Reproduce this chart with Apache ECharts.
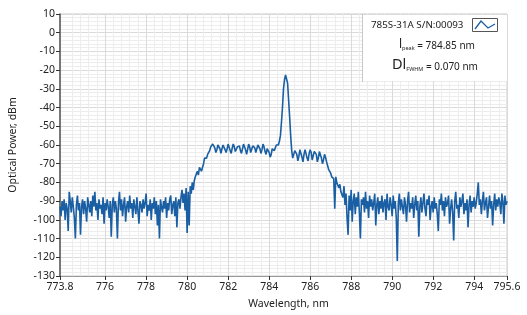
<!DOCTYPE html>
<html>
<head>
<meta charset="utf-8">
<script src="https://cdn.jsdelivr.net/npm/echarts@6/dist/echarts.min.js"></script>
<style>
html,body{margin:0;padding:0;background:#fff;}
#chart{width:527px;height:315px;}
</style>
</head>
<body>
<div id="chart"></div>
<script>
// Wavelength sampling (nm)
const wlStart = 773.8;
const wlStep = 0.05;
// X tick labels (nm)
const xTickLabels = [773.8, 776, 778, 780, 782, 784, 786, 788, 790, 792, 794, 795.6];
// Y range (dBm)
const yMin = -130, yMax = 10, yStep = 10;
const seriesName = '785S-31A S/N:00093';
const peakText = '784.85 nm';
const fwhmText = '0.070 nm';
// Optical power (dBm), one value per sample
const power = [
  -93, -98, -90, -95, -89, -100, -91, -94, -106, -85,
  -90, -96, -88, -93, -99, -110, -92, -87, -95, -91,
  -108, -93, -89, -97, -90, -94, -101, -88, -92, -96,
  -90, -98, -87, -93, -85, -95, -91, -100, -89, -94,
  -92, -97, -88, -102, -91, -95, -89, -93, -99, -90,
  -109, -92, -88, -96, -90, -94, -110, -91, -85, -95,
  -89, -98, -92, -88, -101, -93, -90, -96, -87, -94,
  -91, -99, -89, -93, -97, -88, -95, -102, -90, -92,
  -96, -89, -94, -91, -86, -98, -92, -95, -89, -100,
  -91, -94, -88, -97, -90, -103, -92, -110, -89, -93,
  -96, -90, -94, -88, -99, -91, -95, -89, -87, -97,
  -92, -90, -98, -88, -104, -91, -89, -94, -88, -84,
  -91, -86, -95, -83, -107, -85, -103, -82, -86, -80,
  -84, -79, -77, -78, -74, -76, -72, -71, -74, -72,
  -70, -67, -66, -67, -65, -66, -63, -61, -62, -59.5,
  -59.5, -61.5, -64, -62.5, -60, -59.5, -62, -64.5, -62, -60,
  -60, -62.5, -64, -62, -59.5, -60.5, -63, -64.5, -61.5, -59.5,
  -61, -63.5, -64, -61, -60, -60.5, -63, -64.5, -62, -59.5,
  -60, -62.5, -65, -62.5, -59.5, -61, -64, -63.5, -60.5, -59.5,
  -61.5, -64, -63, -60, -60, -62, -64.5, -62.5, -59.5, -61,
  -63.5, -65, -62, -61, -64, -66.5, -65, -62, -61.5, -63,
  -62, -60, -61, -60, -58, -55, -48, -40, -30, -25,
  -22.5, -22, -27, -36, -45, -55, -63, -67, -66, -63,
  -62.5, -65, -68.5, -66, -62.5, -63, -66.5, -69, -65, -62.5,
  -63.5, -67, -68.5, -64.5, -62.5, -64, -68, -67.5, -63.5, -62.5,
  -65, -69, -67, -63.5, -64, -67, -70, -68, -65, -66.5,
  -69, -71, -73, -72, -75, -77, -76, -78, -94, -77,
  -80, -79, -83, -81, -85, -84, -88, -82, -92, -86,
  -99, -108, -87, -95, -84, -101, -90, -86, -97, -88,
  -93, -85, -96, -110, -89, -92, -88, -96, -85, -94,
  -90, -99, -87, -93, -89, -95, -91, -86, -103, -92,
  -88, -97, -90, -94, -87, -96, -91, -89, -100, -86,
  -93, -95, -88, -92, -98, -87, -94, -90, -99, -122,
  -91, -86, -95, -89, -93, -97, -88, -92, -101, -90,
  -85, -96, -91, -94, -88, -99, -92, -87, -95, -90,
  -109, -93, -88, -96, -91, -86, -94, -98, -89, -92,
  -87, -100, -93, -90, -96, -88, -94, -91, -97, -106,
  -89, -92, -86, -95, -90, -98, -88, -93, -91, -87,
  -102, -94, -89, -96, -111, -90, -85, -94, -92, -99,
  -88, -93, -90, -86, -97, -91, -95, -89, -104, -92,
  -87, -96, -90, -93, -88, -94, -91, -86, -80, -92,
  -89, -97, -90, -85, -95, -91, -88, -99, -93, -87,
  -94, -90, -103, -92, -86, -95, -89, -93, -88, -91,
  -97, -86, -90, -102, -87, -92, -90
];

const data = power.map((p, i) => [Number((wlStart + i * wlStep).toFixed(2)), p]);
const FONT = 'Noto Sans';
const chart = echarts.init(document.getElementById('chart'), null, {renderer: 'canvas'});

chart.setOption({
  animation: false,
  backgroundColor: '#fff',
  grid: {left: 58, right: 20, top: 14, bottom: 35, show: true, borderColor: '#c8c8c8', borderWidth: 1, backgroundColor: '#fff'},
  xAxis: {
    type: 'value',
    min: 773.8, max: 795.6,
    splitNumber: 11,
    name: 'Wavelength, nm',
    nameLocation: 'middle',
    nameGap: 23,
    nameTextStyle: {fontFamily: FONT, fontSize: 10.5, color: '#222', padding: [0, 0, 0, 10]},
    axisLine: {show: true, onZero: false, lineStyle: {color: '#9a9a9a', width: 1}},
    axisTick: {show: true, customValues: xTickLabels, length: 4, lineStyle: {color: '#333'}},
    axisLabel: {customValues: xTickLabels, fontFamily: FONT, fontSize: 10.5, color: '#222', margin: 6},
    splitLine: {show: true, lineStyle: {color: '#dadada', width: 1}},
    minorTick: {show: false, splitNumber: 5},
    minorSplitLine: {show: true, lineStyle: {color: '#ededed', width: 1}}
  },
  yAxis: {
    type: 'value',
    min: yMin, max: yMax, interval: yStep,
    name: 'Optical Power, dBm',
    nameLocation: 'middle',
    nameGap: 41,
    nameTextStyle: {fontFamily: FONT, fontSize: 10.5, color: '#222'},
    axisLine: {show: true, onZero: false, lineStyle: {color: '#555', width: 1.5}},
    axisTick: {show: true, length: 4, lineStyle: {color: '#333'}},
    axisLabel: {fontFamily: FONT, fontSize: 10.5, color: '#222', margin: 5},
    splitLine: {show: true, lineStyle: {color: '#dadada', width: 1}},
    minorTick: {show: false, splitNumber: 5},
    minorSplitLine: {show: true, lineStyle: {color: '#ededed', width: 1}}
  },
  series: [{
    name: seriesName,
    type: 'line',
    data: data,
    showSymbol: false,
    symbol: 'none',
    lineStyle: {color: '#1a5fa3', width: 1.6},
    z: 3
  }],
  graphic: [
    {type: 'rect', shape: {x: 362, y: 15, width: 145, height: 66}, style: {fill: '#fff', stroke: null}, z: 10},
    {type: 'line', shape: {x1: 362.5, y1: 14, x2: 362.5, y2: 82}, style: {stroke: '#c8c8c8', lineWidth: 1}, z: 11},
    {type: 'text', left: 371, top: 20, z: 12,
      style: {text: seriesName, fontFamily: FONT, fontSize: 9.8, fill: '#222'}},
    {type: 'rect', shape: {x: 472.5, y: 18.5, width: 25, height: 13}, style: {fill: '#fff', stroke: '#555', lineWidth: 1}, z: 12},
    {type: 'polyline', shape: {points: [[475, 29], [481, 21], [488, 28], [495, 24]]}, style: {stroke: '#1a5fa3', lineWidth: 1.3, fill: null}, z: 13},
    {type: 'text', left: 399, top: 39, z: 12,
      style: {
        text: '{a|l}{s|peak}{b| = ' + peakText + '}',
        fontFamily: FONT, fill: '#222',
        rich: {
          a: {fontSize: 12, fontFamily: FONT, fill: '#222', verticalAlign: 'bottom', lineHeight: 15},
          s: {fontSize: 5.5, fontFamily: FONT, fill: '#222', verticalAlign: 'bottom', lineHeight: 9},
          b: {fontSize: 10, fontFamily: FONT, fill: '#222', verticalAlign: 'bottom', lineHeight: 14}
        }
      }},
    {type: 'text', left: 392, top: 57, z: 12,
      style: {
        text: '{a|Dl}{s|FWHM}{b| = ' + fwhmText + '}',
        fontFamily: FONT, fill: '#222',
        rich: {
          a: {fontSize: 14.5, fontFamily: FONT, fill: '#222', verticalAlign: 'bottom', lineHeight: 18},
          s: {fontSize: 5.5, fontFamily: FONT, fill: '#222', verticalAlign: 'bottom', lineHeight: 10},
          b: {fontSize: 10, fontFamily: FONT, fill: '#222', verticalAlign: 'bottom', lineHeight: 16}
        }
      }}
  ]
});
</script>
</body>
</html>
